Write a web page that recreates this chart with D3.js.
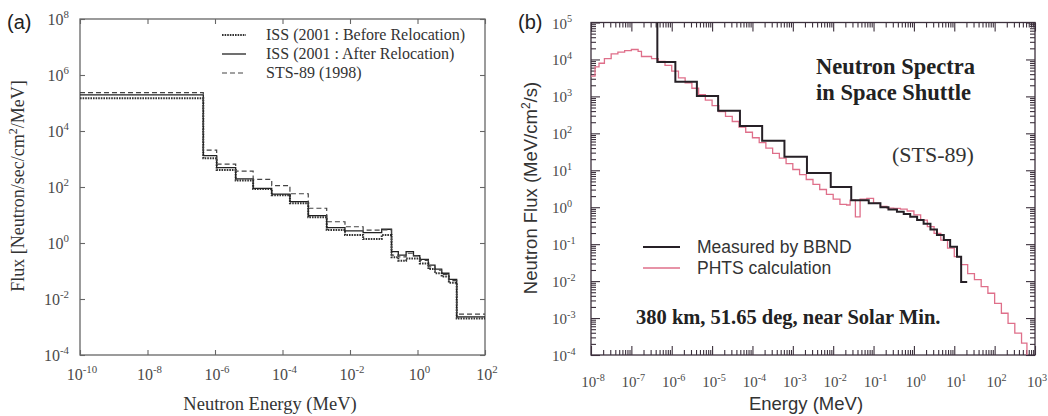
<!DOCTYPE html>
<html>
<head>
<meta charset="utf-8">
<script src="https://cdn.jsdelivr.net/npm/d3@7"></script>
<style>
  body { margin: 0; background: #fff; }
  svg { display: block; }
</style>
</head>
<body>
<div id="chart"></div>
<script>
// ---- panel (a) : ISS / STS-89 spectra (bin lower edges + last upper edge, MeV)
const issEdges = [1e-10, 4.5e-7, 1.12e-6, 4.1e-6, 1.35e-5, 4.8e-5, 1.66e-4, 5.8e-4, 2.04e-3, 7.1e-3,
  2.45e-2, 8.7e-2, 0.17, 0.27, 0.46, 0.76, 1.17, 2.1, 3.3, 5.2, 8.5, 14.5, 100];
const issBefore = [1.48e5, 1070, 407, 170, 85, 51, 26.3, 8.3, 2.9, 1.95, 1.38, 1.95, 0.31, 0.234,
  0.28, 0.28, 0.186, 0.117, 0.083, 0.063, 0.038, 0.002];
const issAfter = [1.95e5, 1320, 490, 195, 89, 56, 30, 9.5, 3.55, 2.7, 2.35, 3.1, 0.49, 0.37,
  0.49, 0.35, 0.26, 0.162, 0.117, 0.083, 0.050, 0.0023];
const sts89 = [2.34e5, 2090, 660, 372, 186, 112, 57.5, 17.4, 5.75, 3.8, 2.9, 2.95, 0.37, 0.32,
  0.43, 0.35, 0.24, 0.141, 0.107, 0.076, 0.045, 0.0029];
const legendA = ["ISS (2001 : Before Relocation)", "ISS (2001 : After Relocation)", "STS-89 (1998)"];
const ticksAx = [-10, -8, -6, -4, -2, 0, 2];
const ticksAy = [-4, -2, 0, 2, 4, 6, 8];

// ---- panel (b) : BBND measurement and PHTS calculation
const bbndEdges = [1e-8, 4.4e-7, 1.23e-6, 4.2e-6, 1.41e-5, 4.9e-5, 1.74e-4, 6.2e-4, 2.24e-3, 8.7e-3,
  2.8e-2, 7.6e-2, 0.148, 0.234, 0.38, 0.56, 0.81, 1.2, 1.74, 2.57, 3.72, 5.5, 7.9, 11.7, 14.8, 20.9];
const bbndFlux = [3e5, 8.5e3, 2.5e3, 1020, 407, 158, 63, 23.4, 8.5, 3.55,
  1.55, 1.29, 1.0, 0.87, 0.76, 0.66, 0.55, 0.45, 0.355, 0.25, 0.178, 0.129, 0.085, 0.046, 0.0095];

const phtsEdges = [1e-8, 1.26e-8, 1.58e-8, 2.15e-8, 3.16e-8, 4.64e-8, 6.81e-8, 1e-7, 1.47e-7, 1.78e-7,
  3.16e-7, 4.64e-7, 6.81e-7, 1e-6, 1.47e-6, 2.15e-6, 3.16e-6, 4.64e-6, 6.81e-6, 1e-5,
  1.47e-5, 2.15e-5, 3.16e-5, 4.64e-5, 6.81e-5, 1e-4, 1.47e-4, 2.15e-4, 3.16e-4, 4.64e-4,
  6.81e-4, 1e-3, 1.47e-3, 2.15e-3, 3.16e-3, 4.64e-3, 6.81e-3, 1e-2, 1.47e-2, 2.15e-2,
  2.63e-2, 3.55e-2, 4.64e-2, 6.81e-2, 0.1, 0.147, 0.215, 0.316, 0.464, 0.681,
  1, 1.47, 2.15, 3.16, 4.64, 6.81, 10, 14.7, 21.5, 31.6,
  46.4, 68.1, 100, 147, 215, 316, 464, 631, 794];
const phtsFlux = [3.55e3, 6.3e3, 7.9e3, 1.05e4, 1.41e4, 1.58e4, 1.74e4, 1.86e4, 1.66e4, 1.2e4,
  1.05e4, 8.9e3, 6.9e3, 4.8e3, 3.16e3, 2.34e3, 1.66e3, 1.12e3, 794, 562,
  389, 288, 209, 148, 107, 75.9, 56.2, 39.8, 28.8, 21.4,
  15.1, 10.5, 7.59, 5.62, 4.17, 3.02, 2.24, 1.66, 1.2, 1.15,
  1.55, 0.55, 1.66, 1.74, 1.29, 1.05, 0.95, 0.93, 0.89, 0.79,
  0.62, 0.45, 0.30, 0.195, 0.129, 0.078, 0.046, 0.028, 0.016, 0.011,
  0.0071, 0.0047, 0.0025, 0.00135, 0.00072, 0.00039, 0.00021, 0.00008];
const legendB = ["Measured by BBND", "PHTS calculation"];
const ticksBx = [-8, -7, -6, -5, -4, -3, -2, -1, 0, 1, 2, 3];
const ticksBy = [-4, -3, -2, -1, 0, 1, 2, 3, 4, 5];

const W = 1048, H = 416;
const serif = '"Liberation Serif", "Times New Roman", serif';
const sans = '"Liberation Sans", Arial, sans-serif';

const svg = d3.select("#chart").append("svg").attr("width", W).attr("height", H);

// step points from edges + values
function steps(edges, vals) {
  return edges.map((e, i) => [e, vals[Math.min(i, vals.length - 1)]]);
}

// power-of-ten label with superscript
function powLabel(g, x, y, p, anchor, size) {
  const t = g.append("text").attr("x", x).attr("y", y)
    .attr("text-anchor", anchor).style("font-family", serif)
    .style("font-size", size + "px").attr("fill", "#4a4a4a");
  t.append("tspan").text("10");
  t.append("tspan").attr("dy", -size * 0.42).style("font-size", (size * 0.68) + "px").text(p);
  return t;
}

function tickStyle(sel, col) {
  sel.select(".domain").remove();
  sel.selectAll("text").remove();
  sel.selectAll("line").attr("stroke", col).attr("stroke-width", 1.1);
}

// ================= Panel (a)
const xA = d3.scaleLog().domain([1e-10, 1e2]).range([80, 485]);
const yA = d3.scaleLog().domain([1e-4, 1e8]).range([355, 19]);
const gA = svg.append("g");

gA.append("rect").attr("x", 80).attr("y", 19).attr("width", 405).attr("height", 336)
  .attr("fill", "none").attr("stroke", "#666").attr("stroke-width", 1.3);

const majA = ticksAx.map(p => Math.pow(10, p));
const majAy = ticksAy.map(p => Math.pow(10, p));
gA.append("g").attr("transform", "translate(0,355)")
  .call(d3.axisBottom(xA).tickValues(majA).tickSize(-5)).call(tickStyle, "#666");
gA.append("g").attr("transform", "translate(0,19)")
  .call(d3.axisTop(xA).tickValues(majA).tickSize(-5)).call(tickStyle, "#666");
gA.append("g").attr("transform", "translate(80,0)")
  .call(d3.axisLeft(yA).tickValues(majAy).tickSize(-5)).call(tickStyle, "#666");
gA.append("g").attr("transform", "translate(485,0)")
  .call(d3.axisRight(yA).tickValues(majAy).tickSize(-5)).call(tickStyle, "#666");

ticksAx.forEach(p => powLabel(gA, xA(Math.pow(10, p)) + 2, 380, p, "middle", 16));
ticksAy.forEach(p => powLabel(gA, 69, yA(Math.pow(10, p)) + 6, p, "end", 16));

const lineA = d3.line().x(d => xA(d[0])).y(d => yA(d[1])).curve(d3.curveStepAfter);
const seriesA = [
  { vals: issBefore, dash: "1.6,1", w: 2, col: "#333" },
  { vals: issAfter, dash: null, w: 1.3, col: "#222" },
  { vals: sts89, dash: "5,3", w: 1.2, col: "#444" }
];
seriesA.forEach((s, i) => {
  gA.append("path").datum(steps(issEdges, s.vals)).attr("d", lineA)
    .attr("fill", "none").attr("stroke", s.col).attr("stroke-width", s.w)
    .attr("stroke-dasharray", s.dash);
  const ly = 35 + i * 19;
  gA.append("line").attr("x1", 222).attr("x2", 246).attr("y1", ly).attr("y2", ly)
    .attr("stroke", s.col).attr("stroke-width", s.w).attr("stroke-dasharray", s.dash);
  gA.append("text").attr("x", 266).attr("y", ly + 5).style("font-family", serif)
    .style("font-size", "16px").attr("fill", "#333").text(legendA[i]);
});

gA.append("text").attr("x", 7).attr("y", 29).style("font-family", sans)
  .style("font-size", "20px").attr("fill", "#222").text("(a)");
gA.append("text").attr("x", 270).attr("y", 410).attr("text-anchor", "middle")
  .style("font-family", serif).style("font-size", "18.5px").attr("fill", "#333")
  .text("Neutron Energy (MeV)");
const ylA = gA.append("text").attr("transform", "translate(24,186) rotate(-90)")
  .attr("text-anchor", "middle").style("font-family", serif).style("font-size", "18px")
  .attr("fill", "#333");
ylA.append("tspan").text("Flux [Neutron/sec/cm");
ylA.append("tspan").attr("dy", -7).style("font-size", "12px").text("2");
ylA.append("tspan").attr("dy", 7).text("/MeV]");

// ================= Panel (b)
const xB = d3.scaleLog().domain([1e-8, 1e3]).range([591, 1035]);
const yB = d3.scaleLog().domain([1e-4, 1e5]).range([355, 22.5]);
const gB = svg.append("g");

gB.append("clipPath").attr("id", "clipB").append("rect")
  .attr("x", 591).attr("y", 22.5).attr("width", 444).attr("height", 332.5);

const majB = ticksBx.map(p => Math.pow(10, p));
const majBy = ticksBy.map(p => Math.pow(10, p));
function minors(lo, hi) {
  const out = [];
  for (let p = lo; p < hi; p++) for (let m = 2; m <= 9; m++) out.push(m * Math.pow(10, p));
  return out;
}
const minBx = minors(-8, 3), minBy = minors(-4, 5);
const tcol = "#3c303c";
[[d3.axisBottom, "translate(0,355)", xB, minBx, majB],
 [d3.axisTop, "translate(0,22.5)", xB, minBx, majB],
 [d3.axisLeft, "translate(591,0)", yB, minBy, majBy],
 [d3.axisRight, "translate(1035,0)", yB, minBy, majBy]].forEach(([ax, tr, sc, mn, mj]) => {
  gB.append("g").attr("transform", tr).call(ax(sc).tickValues(mn).tickSize(-5)).call(tickStyle, tcol);
  gB.append("g").attr("transform", tr).call(ax(sc).tickValues(mj).tickSize(-9)).call(tickStyle, tcol);
});

gB.append("rect").attr("x", 591).attr("y", 22.5).attr("width", 444).attr("height", 332.5)
  .attr("fill", "none").attr("stroke", tcol).attr("stroke-width", 1.3);

ticksBx.forEach(p => powLabel(gB, xB(Math.pow(10, p)) + 2, 387, p, "middle", 15));
ticksBy.forEach(p => powLabel(gB, 552, yB(Math.pow(10, p)) + 6, p, "start", 15));

const lineB = d3.line().x(d => xB(d[0])).y(d => yB(d[1])).curve(d3.curveStepAfter);
const plot = gB.append("g").attr("clip-path", "url(#clipB)");
plot.append("path").datum(steps(phtsEdges, phtsFlux)).attr("d", lineB)
  .attr("fill", "none").attr("stroke", "#df6f8a").attr("stroke-width", 1.3);
plot.append("path").datum(steps(bbndEdges, bbndFlux)).attr("d", lineB)
  .attr("fill", "none").attr("stroke", "#262026").attr("stroke-width", 2);

[["#262026", 2], ["#df6f8a", 1.3]].forEach(([c, w], i) => {
  const ly = 247 + i * 21;
  gB.append("line").attr("x1", 643).attr("x2", 680).attr("y1", ly).attr("y2", ly)
    .attr("stroke", c).attr("stroke-width", w);
  gB.append("text").attr("x", 697).attr("y", ly + 6).style("font-family", sans)
    .style("font-size", "17.5px").attr("fill", "#333").text(legendB[i]);
});

gB.append("text").attr("x", 816).attr("y", 74).style("font-family", serif)
  .style("font-weight", "bold").style("font-size", "22.5px").attr("fill", "#222").text("Neutron Spectra");
gB.append("text").attr("x", 816).attr("y", 100).style("font-family", serif)
  .style("font-weight", "bold").style("font-size", "22.5px").attr("fill", "#222").text("in Space Shuttle");
gB.append("text").attr("x", 892).attr("y", 162).style("font-family", serif)
  .style("font-size", "22px").attr("fill", "#333").text("(STS-89)");
gB.append("text").attr("x", 636).attr("y", 324).style("font-family", serif)
  .style("font-weight", "bold").style("font-size", "20.5px").attr("fill", "#222")
  .text("380 km, 51.65 deg, near Solar Min.");

gB.append("text").attr("x", 518).attr("y", 29).style("font-family", sans)
  .style("font-size", "20px").attr("fill", "#222").text("(b)");
gB.append("text").attr("x", 806).attr("y", 410).attr("text-anchor", "middle")
  .style("font-family", sans).style("font-size", "18.5px").attr("fill", "#333").text("Energy (MeV)");
const ylB = gB.append("text").attr("transform", "translate(537,188) rotate(-90)")
  .attr("text-anchor", "middle").style("font-family", sans).style("font-size", "18.5px")
  .attr("fill", "#333");
ylB.append("tspan").text("Neutron Flux (MeV/cm");
ylB.append("tspan").attr("dy", -7).style("font-size", "12px").text("2");
ylB.append("tspan").attr("dy", 7).text("/s)");
</script>
</body>
</html>
